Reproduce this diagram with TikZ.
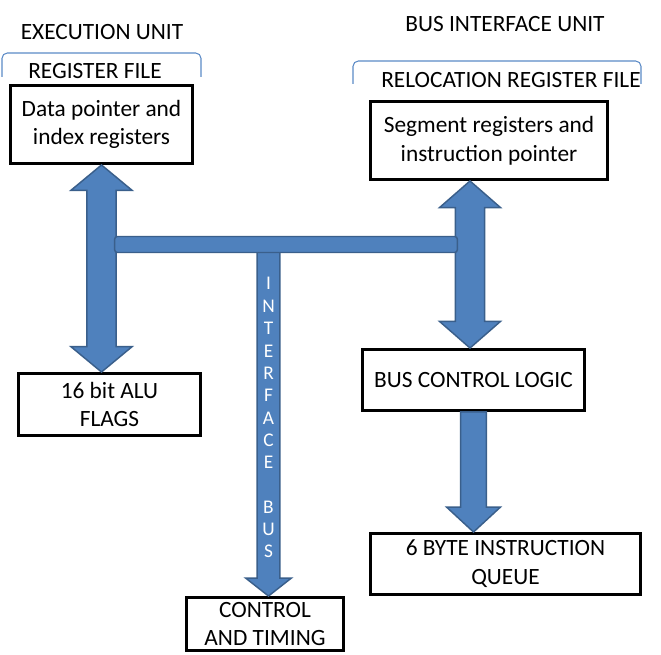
\documentclass[tikz,border=0pt]{standalone}
\usepackage{fontspec}
\setmainfont{Carlito}
\usetikzlibrary{calc}
\definecolor{busfill}{HTML}{4F81BD}
\definecolor{busline}{HTML}{3A5F8B}
\definecolor{brk}{HTML}{5B8AC6}
\newcommand\boxfont{\fontsize{17.5}{21.5}\selectfont}
\newcommand\dblarr[5]{\path[arrowshape] let \p1=(#1), \p2=(#2) in
  (\x1,\y1) -- (\x1+#4,\y1-#5) -- (\x1+#3,\y1-#5) -- (\x1+#3,\y2+#5) -- (\x1+#4,\y2+#5)
  -- (\x1,\y2) -- (\x1-#4,\y2+#5) -- (\x1-#3,\y2+#5) -- (\x1-#3,\y1-#5) -- (\x1-#4,\y1-#5) -- cycle;}
\newcommand\sglarr[5]{\path[arrowshape] let \p1=(#1), \p2=(#2) in
  (\x1-#3,\y1) -- (\x1+#3,\y1) -- (\x1+#3,\y2+#5) -- (\x1+#4,\y2+#5)
  -- (\x1,\y2) -- (\x1-#4,\y2+#5) -- (\x1-#3,\y2+#5) -- cycle;}
\tikzset{
  box/.style={draw=black, line width=2.2pt, fill=white, inner sep=0pt, align=center, font=\boxfont},
  lbl/.style={inner sep=0pt, align=center, font=\boxfont},
  arrowshape/.style={fill=busfill, draw=busline, line width=1.1pt, line join=miter},
  bracket/.style={draw=brk, line width=0.8pt, rounded corners=4pt},
  busletter/.style={inner sep=0pt, anchor=base, text=white, font=\fontsize{14.5}{16}\selectfont}
}
\begin{document}
\begin{tikzpicture}[x=0.75pt, y=-0.75pt]
\useasboundingbox (0,0) rectangle (661,655);

% titles and brackets
\node[lbl] (eu) at (102,32) {EXECUTION UNIT};
\node[lbl] (biu) at (505,24) {BUS INTERFACE UNIT};
\draw[bracket] (2,77) -- (2,53) -- (201,53) -- (201,77);
\draw[bracket] (353,84) -- (353,61) -- (641,61) -- (641,84);
\node[lbl] (rf) at (95,71) {REGISTER FILE};
\node[lbl] (rrf) at (511,80) {RELOCATION REGISTER FILE};

% boxes
\node[box, minimum width=136.5pt, minimum height=58.5pt] (dp) at (101.5,124.5) {Data pointer and\\index registers};
\node[box, minimum width=177.75pt, minimum height=58.5pt] (seg) at (489,140.5) {Segment registers and\\instruction pointer};
\node[box, minimum width=136.5pt, minimum height=46.5pt] (alu) at (109.5,404.5) {16 bit ALU\\FLAGS};
\node[box, minimum width=166.5pt, minimum height=45.75pt] (bcl) at (473.5,380) {BUS CONTROL LOGIC};
\node[box, minimum width=202.5pt, minimum height=45.75pt] (queue) at (505.5,564) {6 BYTE INSTRUCTION\\QUEUE};
\node[box, minimum width=117.75pt, minimum height=39.75pt] (ctrl) at (265,624) {CONTROL\\AND TIMING};

\coordinate (rx) at (470,0);
\coordinate (ix) at (268.5,0);
\coordinate (barc) at (286,244.5);

% arrows
\dblarr{dp.south}{dp.south |- alu.north}{10.9pt}{22.9pt}{19pt}
\dblarr{rx |- seg.south}{rx |- bcl.north}{10.9pt}{22.9pt}{20pt}
\sglarr{ix |- barc}{ix |- ctrl.north}{8.6pt}{17.2pt}{13.5pt}
\node[fill=busfill, draw=busline, line width=1.1pt, rounded corners=2pt, minimum width=257pt, minimum height=12pt, inner sep=0pt] (bar) at (barc) {};
\sglarr{bcl.south}{bcl.south |- queue.north}{9.7pt}{20.2pt}{18.7pt}

% vertical letters
\foreach \ch/\yy [count=\i] in {I/284,N/307,T/329,E/352,R/374,F/396,A/419,C/441,E/463,B/508,U/530,S/552}
  \node[busletter] (bl\i) at (268.5,\yy+5.8) {\ch};
\end{tikzpicture}
\end{document}
